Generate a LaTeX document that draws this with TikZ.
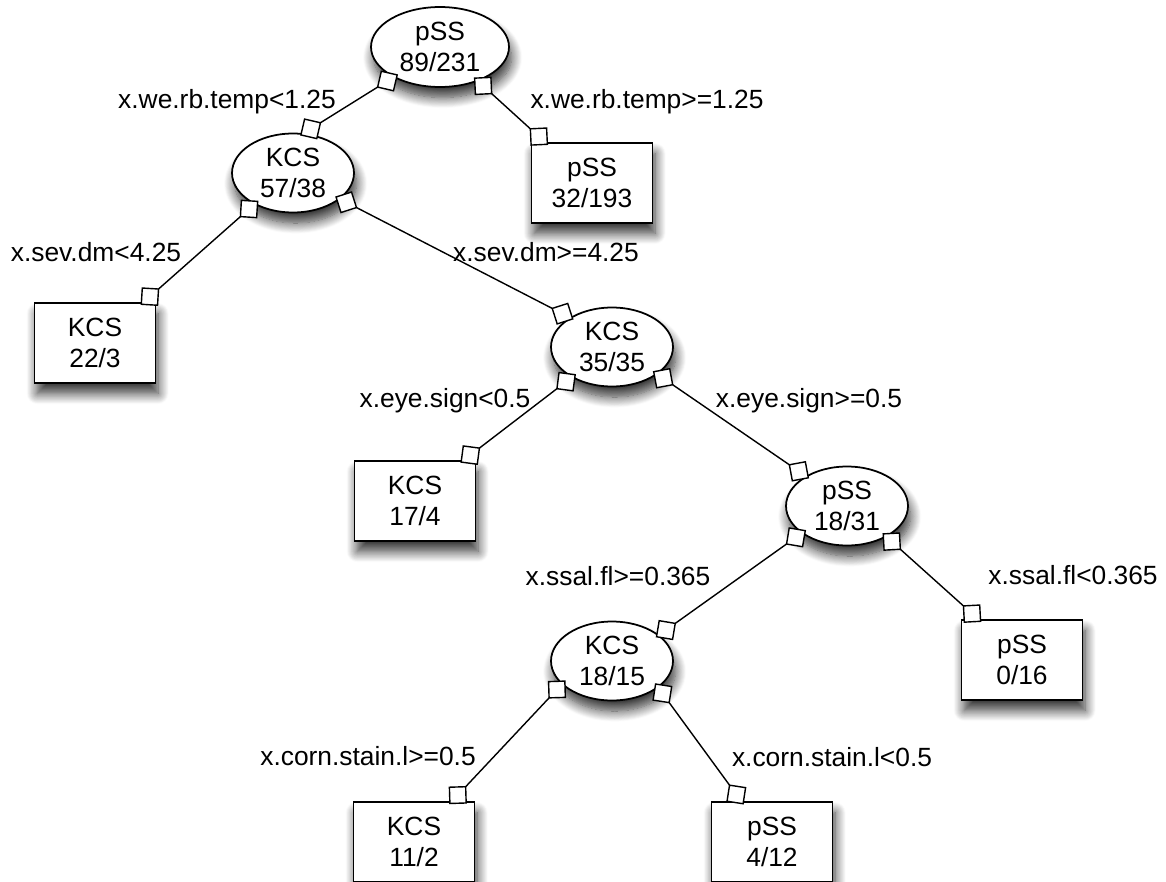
\documentclass[tikz,border=0pt]{standalone}
\usepackage{fontspec}
\setmainfont{Liberation Sans}
\usetikzlibrary{arrows.meta, shapes.geometric, shadows.blur}

\begin{document}
\begin{tikzpicture}[x=0.02cm, y=-0.02cm, line width=0.8pt,
    font=\fontsize{15}{17.6}\selectfont,
    sombra/.style={blur shadow={shadow xshift=1.5pt, shadow yshift=-6pt, shadow blur steps=12, shadow blur radius=6pt, shadow opacity=80}},
    no/.style={draw, ellipse, fill=white, line width=1pt, inner sep=0pt, align=center,
      minimum width=2.44cm, minimum height=1.58cm, sombra},
    folha/.style={draw, rectangle, fill=white, line width=1pt, inner sep=0pt, align=center,
      minimum width=2.42cm, minimum height=1.6cm, sombra},
    ramo/.style={{Diamond[fill=white, length=0.5cm, width=0.5cm]}-{Diamond[fill=white, length=0.5cm, width=0.5cm]},
      shorten <=-3.2pt, shorten >=-2.4pt}]
    \useasboundingbox (0,0) rectangle (1166,882);

    % Nós internos
    \node[no, minimum width=2.76cm, minimum height=1.6cm] (raiz) at (440,47) {pSS\\89/231};
    \node[no] (kcs57) at (293,173) {KCS\\57/38};
    \node[no] (kcs35) at (612,347) {KCS\\35/35};
    \node[no] (pss18) at (847,506) {pSS\\18/31};
    \node[no] (kcs18) at (612,661) {KCS\\18/15};

    % Folhas
    \node[folha] (pss32) at (592,183) {pSS\\32/193};
    \node[folha] (kcs22) at (95,343) {KCS\\22/3};
    \node[folha] (kcs17) at (415,501) {KCS\\17/4};
    \node[folha] (pss0) at (1022,660) {pSS\\0/16};
    \node[folha] (kcs11) at (414,842) {KCS\\11/2};
    \node[folha] (pss4) at (772,842) {pSS\\4/12};

    % Ramos com losangos nas pontas
    \draw[ramo] (raiz.213) -- (kcs57.75);
    \draw[ramo] (raiz.318) -- (pss32.139);
    \draw[ramo] (kcs57.219) -- (kcs22.40);
    \draw[ramo] (kcs57.331) -- (kcs35.145);
    \draw[ramo] (kcs35.217) -- (kcs17.40);
    \draw[ramo] (kcs35.329) -- (pss18.144);
    \draw[ramo] (pss18.211) -- (kcs18.29);
    \draw[ramo] (pss18.322) -- (pss0.137);
    \draw[ramo] (kcs18.205) -- (kcs11.47);
    \draw[ramo] (kcs18.330) -- (pss4.127);

    % Condições dos ramos
    \node (c1) at (227,102) {x.we.rb.temp<1.25};
    \node (c2) at (647,102) {x.we.rb.temp>=1.25};
    \node (c3) at (96,252) {x.sev.dm<4.25};
    \node (c4) at (546,252) {x.sev.dm>=4.25};
    \node (c5) at (445,401) {x.eye.sign<0.5};
    \node (c6) at (809,401) {x.eye.sign>=0.5};
    \node (c7) at (618,576) {x.ssal.fl>=0.365};
    \node (c8) at (1073,575) {x.ssal.fl<0.365};
    \node (c9) at (368,756) {x.corn.stain.l>=0.5};
    \node (c10) at (832,757) {x.corn.stain.l<0.5};
  \end{tikzpicture}
\end{document}
